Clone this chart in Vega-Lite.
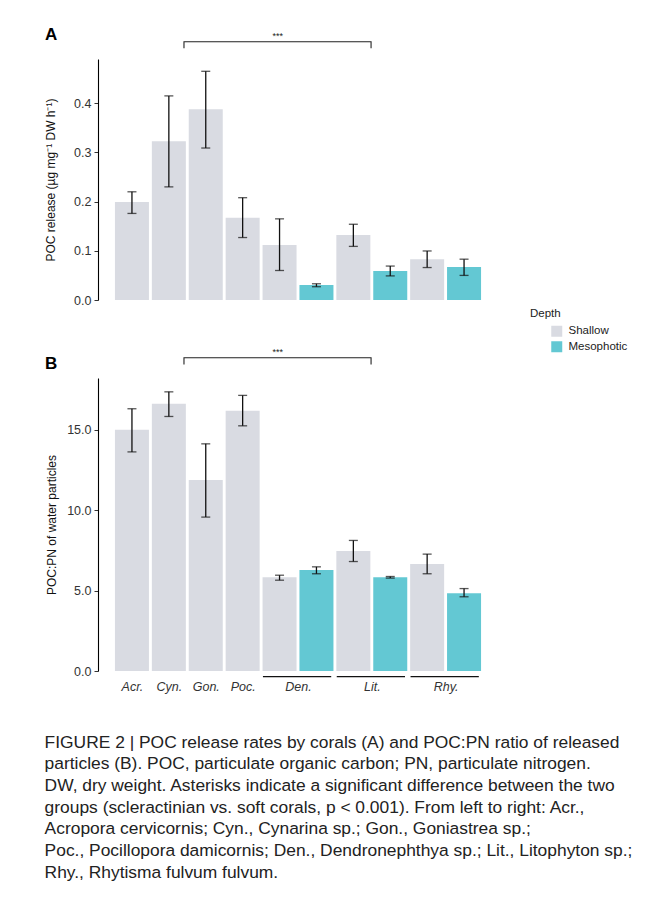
{
  "$schema": "https://vega.github.io/schema/vega-lite/v6.json",
  "padding": {"left": 44, "top": 26, "right": 0, "bottom": 0},
  "background": "white",
  "datasets": {
    "bars": [
      {"genus": "Acr.", "depth": "Shallow", "pos": 1, "poc": 0.199, "poc_lo": 0.176, "poc_hi": 0.220, "ratio": 14.98, "ratio_lo": 13.61, "ratio_hi": 16.29},
      {"genus": "Cyn.", "depth": "Shallow", "pos": 2, "poc": 0.323, "poc_lo": 0.230, "poc_hi": 0.415, "ratio": 16.60, "ratio_lo": 15.81, "ratio_hi": 17.34},
      {"genus": "Gon.", "depth": "Shallow", "pos": 3, "poc": 0.388, "poc_lo": 0.309, "poc_hi": 0.465, "ratio": 11.87, "ratio_lo": 9.56, "ratio_hi": 14.11},
      {"genus": "Poc.", "depth": "Shallow", "pos": 4, "poc": 0.167, "poc_lo": 0.127, "poc_hi": 0.208, "ratio": 16.16, "ratio_lo": 15.23, "ratio_hi": 17.12},
      {"genus": "Den.", "depth": "Shallow", "pos": 5, "poc": 0.112, "poc_lo": 0.060, "poc_hi": 0.165, "ratio": 5.83, "ratio_lo": 5.64, "ratio_hi": 5.95},
      {"genus": "Den.", "depth": "Mesophotic", "pos": 6, "poc": 0.0305, "poc_lo": 0.027, "poc_hi": 0.033, "ratio": 6.27, "ratio_lo": 6.04, "ratio_hi": 6.47},
      {"genus": "Lit.", "depth": "Shallow", "pos": 7, "poc": 0.132, "poc_lo": 0.109, "poc_hi": 0.154, "ratio": 7.45, "ratio_lo": 6.80, "ratio_hi": 8.11},
      {"genus": "Lit.", "depth": "Mesophotic", "pos": 8, "poc": 0.059, "poc_lo": 0.049, "poc_hi": 0.069, "ratio": 5.83, "ratio_lo": 5.77, "ratio_hi": 5.87},
      {"genus": "Rhy.", "depth": "Shallow", "pos": 9, "poc": 0.083, "poc_lo": 0.066, "poc_hi": 0.0997, "ratio": 6.64, "ratio_lo": 6.04, "ratio_hi": 7.26},
      {"genus": "Rhy.", "depth": "Mesophotic", "pos": 10, "poc": 0.067, "poc_lo": 0.050, "poc_hi": 0.083, "ratio": 4.83, "ratio_lo": 4.61, "ratio_hi": 5.12}
    ],
    "bracketA": [
      {"x": 2.41, "y": 0.512, "o": 1},
      {"x": 2.41, "y": 0.525, "o": 2},
      {"x": 7.48, "y": 0.525, "o": 3},
      {"x": 7.48, "y": 0.512, "o": 4}
    ],
    "starA": [{"x": 4.95, "y": 0.530, "label": "***"}],
    "bracketB": [
      {"x": 2.41, "y": 19.04, "o": 1},
      {"x": 2.41, "y": 19.46, "o": 2},
      {"x": 7.48, "y": 19.46, "o": 3},
      {"x": 7.48, "y": 19.04, "o": 4}
    ],
    "starB": [{"x": 4.95, "y": 19.62, "label": "***"}],
    "groups": [
      {"genus": "Den.", "x": 4.55, "x2": 6.40, "y": -0.35},
      {"genus": "Lit.", "x": 6.55, "x2": 8.40, "y": -0.35},
      {"genus": "Rhy.", "x": 8.55, "x2": 10.40, "y": -0.35}
    ]
  },
  "vconcat": [
    {
      "width": 400,
      "height": 241,
      "title": {"text": "A", "anchor": "start", "frame": "group", "offset": -12, "dx": -53, "fontSize": 17, "fontWeight": "bold", "font": "Liberation Sans", "color": "#000"},
      "layer": [
        {
          "data": {"name": "bars"},
          "mark": {"type": "bar", "width": 34},
          "encoding": {
            "x": {"field": "pos", "type": "quantitative", "scale": {"domain": [0.08, 10.92], "nice": false, "zero": false, "padding": 0}, "axis": null},
            "y": {"field": "poc", "type": "quantitative", "scale": {"domain": [0, 0.49], "nice": false, "zero": false, "padding": 0},
                  "axis": {"title": "POC release (\u00b5g mg\u207b\u00b9 DW h\u207b\u00b9)", "values": [0, 0.1, 0.2, 0.3, 0.4], "format": ".1f", "titlePadding": 16}},
            "color": {"field": "depth", "type": "nominal", "scale": {"domain": ["Shallow", "Mesophotic"], "range": ["#d9dbe2", "#63c8d3"]},
                      "legend": {"title": "Depth", "orient": "none", "legendX": 432, "legendY": 249, "symbolType": "square", "symbolSize": 121, "symbolStrokeWidth": 0, "symbolOffset": 21, "labelOffset": 6, "titleFontWeight": "normal", "titleFontSize": 11.5, "labelFontSize": 11.5, "rowPadding": 2.5, "titlePadding": 6, "titleColor": "#222", "labelColor": "#222", "titleFont": "Liberation Sans", "labelFont": "Liberation Sans", "offset": 0}}
          }
        },
        {
          "data": {"name": "bars"},
          "mark": {"type": "rule", "color": "#111", "strokeWidth": 1.3},
          "encoding": {
            "x": {"field": "pos", "type": "quantitative"},
            "y": {"field": "poc_lo", "type": "quantitative"},
            "y2": {"field": "poc_hi"}
          }
        },
        {
          "data": {"name": "bars"},
          "mark": {"type": "tick", "orient": "horizontal", "size": 9, "thickness": 1.3, "color": "#111"},
          "encoding": {
            "x": {"field": "pos", "type": "quantitative"},
            "y": {"field": "poc_lo", "type": "quantitative"}
          }
        },
        {
          "data": {"name": "bars"},
          "mark": {"type": "tick", "orient": "horizontal", "size": 9, "thickness": 1.3, "color": "#111"},
          "encoding": {
            "x": {"field": "pos", "type": "quantitative"},
            "y": {"field": "poc_hi", "type": "quantitative"}
          }
        },
        {
          "data": {"name": "bracketA"},
          "mark": {"type": "line", "color": "#222", "strokeWidth": 1.1},
          "encoding": {
            "x": {"field": "x", "type": "quantitative"},
            "y": {"field": "y", "type": "quantitative"},
            "order": {"field": "o"}
          }
        },
        {
          "data": {"name": "starA"},
          "mark": {"type": "text", "fontSize": 9, "baseline": "alphabetic", "color": "#222", "font": "Liberation Sans"},
          "encoding": {
            "x": {"field": "x", "type": "quantitative"},
            "y": {"field": "y", "type": "quantitative"},
            "text": {"field": "label"}
          }
        }
      ]
    },
    {
      "width": 400,
      "height": 293,
      "title": {"text": "B", "anchor": "start", "frame": "group", "offset": -25, "dx": -53, "fontSize": 17, "fontWeight": "bold", "font": "Liberation Sans", "color": "#000"},
      "layer": [
        {
          "data": {"name": "bars"},
          "mark": {"type": "bar", "width": 34},
          "encoding": {
            "x": {"field": "pos", "type": "quantitative", "scale": {"domain": [0.08, 10.92], "nice": false, "zero": false, "padding": 0},
                  "axis": {"title": null, "values": [1, 2, 3, 4, 5.5, 7.5, 9.5], "domain": false, "ticks": false, "labelPadding": 9, "labelFontStyle": "italic", "labelFontSize": 12.5, "labelColor": "#333",
                           "labelExpr": "datum.value == 1 ? 'Acr.' : datum.value == 2 ? 'Cyn.' : datum.value == 3 ? 'Gon.' : datum.value == 4 ? 'Poc.' : datum.value == 5.5 ? 'Den.' : datum.value == 7.5 ? 'Lit.' : 'Rhy.'"}},
            "y": {"field": "ratio", "type": "quantitative", "scale": {"domain": [0, 18.2], "nice": false, "zero": false, "padding": 0},
                  "axis": {"title": "POC:PN of water particles", "values": [0, 5, 10, 15], "format": ".1f", "titlePadding": 8}},
            "color": {"field": "depth", "type": "nominal", "scale": {"domain": ["Shallow", "Mesophotic"], "range": ["#d9dbe2", "#63c8d3"]}}
          }
        },
        {
          "data": {"name": "bars"},
          "mark": {"type": "rule", "color": "#111", "strokeWidth": 1.3},
          "encoding": {
            "x": {"field": "pos", "type": "quantitative"},
            "y": {"field": "ratio_lo", "type": "quantitative"},
            "y2": {"field": "ratio_hi"}
          }
        },
        {
          "data": {"name": "bars"},
          "mark": {"type": "tick", "orient": "horizontal", "size": 9, "thickness": 1.3, "color": "#111"},
          "encoding": {
            "x": {"field": "pos", "type": "quantitative"},
            "y": {"field": "ratio_lo", "type": "quantitative"}
          }
        },
        {
          "data": {"name": "bars"},
          "mark": {"type": "tick", "orient": "horizontal", "size": 9, "thickness": 1.3, "color": "#111"},
          "encoding": {
            "x": {"field": "pos", "type": "quantitative"},
            "y": {"field": "ratio_hi", "type": "quantitative"}
          }
        },
        {
          "data": {"name": "bracketB"},
          "mark": {"type": "line", "color": "#222", "strokeWidth": 1.1},
          "encoding": {
            "x": {"field": "x", "type": "quantitative"},
            "y": {"field": "y", "type": "quantitative"},
            "order": {"field": "o"}
          }
        },
        {
          "data": {"name": "starB"},
          "mark": {"type": "text", "fontSize": 9, "baseline": "alphabetic", "color": "#222", "font": "Liberation Sans"},
          "encoding": {
            "x": {"field": "x", "type": "quantitative"},
            "y": {"field": "y", "type": "quantitative"},
            "text": {"field": "label"}
          }
        },
        {
          "data": {"name": "groups"},
          "mark": {"type": "rule", "color": "#111", "strokeWidth": 1.4},
          "encoding": {
            "x": {"field": "x", "type": "quantitative"},
            "x2": {"field": "x2"},
            "y": {"field": "y", "type": "quantitative"}
          }
        }
      ]
    }
  ],
  "spacing": 41,
  "title": {
    "text": [
      "FIGURE 2 | POC release rates by corals (A) and POC:PN ratio of released",
      "particles (B). POC, particulate organic carbon; PN, particulate nitrogen.",
      "DW, dry weight. Asterisks indicate a significant difference between the two",
      "groups (scleractinian vs. soft corals, p < 0.001). From left to right: Acr.,",
      "Acropora cervicornis; Cyn., Cynarina sp.; Gon., Goniastrea sp.;",
      "Poc., Pocillopora damicornis; Den., Dendronephthya sp.; Lit., Litophyton sp.;",
      "Rhy., Rhytisma fulvum fulvum."
    ],
    "orient": "bottom",
    "anchor": "start",
    "frame": "bounds",
    "offset": 41,
    "fontSize": 17.4,
    "fontWeight": "normal",
    "lineHeight": 21.7,
    "font": "Liberation Sans",
    "color": "#222"
  },
  "config": {
    "view": {"stroke": null},
    "axis": {"grid": false, "domainColor": "#000", "domainWidth": 1.1, "tickColor": "#333", "tickSize": 4, "tickWidth": 1, "labelPadding": 3, "labelFontSize": 12.5, "labelColor": "#333", "labelFont": "Liberation Sans", "titleFont": "Liberation Sans", "titleFontSize": 12, "titleFontWeight": "normal", "titleColor": "#111"}
  }
}
